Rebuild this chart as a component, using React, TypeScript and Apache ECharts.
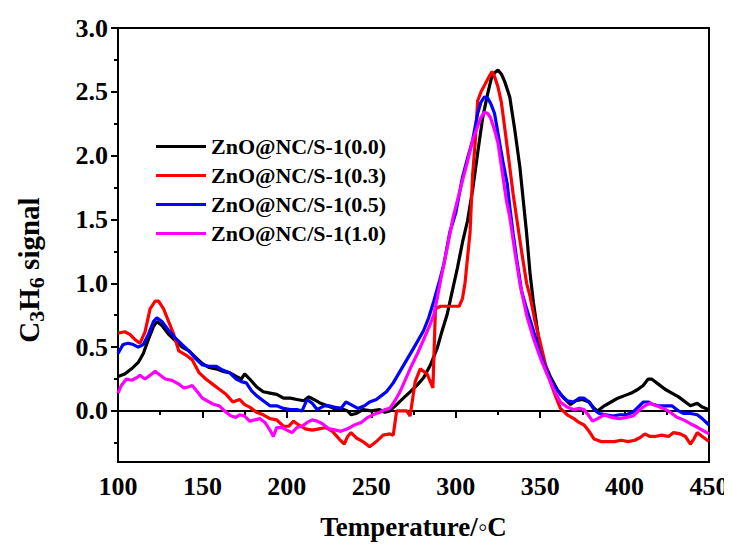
import React, { useEffect, useRef } from "react";
import * as echarts from "echarts";

const seriesNames = [
  "ZnO@NC/S-1(0.0)",
  "ZnO@NC/S-1(0.3)",
  "ZnO@NC/S-1(0.5)",
  "ZnO@NC/S-1(1.0)",
];
const seriesColors = ["#000000", "#ff0000", "#0000ff", "#ff00ff"];

const xTicks = [100, 150, 200, 250, 300, 350, 400, 450];
const yMajorTicks = [0, 0.5, 1.0, 1.5, 2.0, 2.5, 3.0];
const yMinorTicks = [-0.25, 0.25, 0.75, 1.25, 1.75, 2.25, 2.75];

const tBlack = [100, 104, 108, 112, 115, 118, 121, 123, 126, 130, 134, 138, 142, 146, 150, 154, 158, 162, 166, 170, 173, 175, 178, 182, 186, 190, 194, 198, 202, 206, 210, 213, 216, 220, 224, 228, 232, 236, 238, 241, 245, 250, 255, 258, 261, 265, 269, 273, 277, 281, 285, 289, 292, 295, 298, 301, 304, 307, 310, 313, 316, 319, 321, 323, 325, 327, 329, 332, 335, 338, 340, 342, 344, 346, 348, 350, 353, 356, 360, 364, 368, 371, 375, 379, 382, 384, 388, 392, 396, 400, 404, 408, 411, 414, 416, 420, 424, 428, 432, 436, 439, 443, 446, 450];
const vBlack = [0.27, 0.29, 0.33, 0.38, 0.45, 0.56, 0.66, 0.70, 0.67, 0.60, 0.55, 0.50, 0.47, 0.42, 0.37, 0.34, 0.33, 0.31, 0.30, 0.27, 0.25, 0.29, 0.25, 0.19, 0.15, 0.14, 0.13, 0.10, 0.10, 0.09, 0.08, 0.11, 0.09, 0.06, 0.04, 0.02, 0.02, 0.00, -0.03, -0.02, 0.01, 0.00, 0.01, -0.01, 0.00, 0.05, 0.10, 0.15, 0.20, 0.26, 0.36, 0.49, 0.63, 0.76, 0.94, 1.12, 1.32, 1.49, 1.73, 2.02, 2.30, 2.49, 2.60, 2.65, 2.67, 2.64, 2.58, 2.46, 2.20, 1.91, 1.65, 1.39, 1.08, 0.85, 0.67, 0.49, 0.36, 0.27, 0.17, 0.10, 0.05, 0.08, 0.09, 0.07, 0.02, 0.00, 0.04, 0.07, 0.10, 0.12, 0.14, 0.17, 0.20, 0.25, 0.25, 0.21, 0.17, 0.14, 0.11, 0.07, 0.04, 0.06, 0.03, 0.01];

const tRed = [100, 104, 107, 110, 113, 116, 119, 122, 124, 127, 130, 133, 136, 140, 144, 148, 152, 156, 160, 164, 168, 172, 175, 178, 182, 186, 190, 194, 198, 201, 204, 207, 211, 215, 219, 223, 227, 231, 234, 236, 238, 241, 245, 249, 253, 257, 261, 263, 265, 268, 271, 273, 276, 279, 283, 286.5, 288, 291, 296, 302, 304, 305.5, 307, 308.5, 310, 311.5, 313, 315, 317, 319, 321.5, 323, 325, 327, 329, 332, 334, 336, 339, 342, 344, 347, 350, 353, 356, 359, 362, 366, 370, 373, 376, 379, 382, 386, 390, 394, 398, 402, 406, 409, 412, 415, 418, 422, 426, 429, 433, 436, 439, 441, 443, 446, 450];
const vRed = [0.61, 0.62, 0.60, 0.56, 0.53, 0.62, 0.80, 0.86, 0.86, 0.80, 0.70, 0.60, 0.47, 0.44, 0.40, 0.30, 0.25, 0.21, 0.17, 0.13, 0.07, 0.09, 0.05, 0.03, -0.01, -0.03, -0.06, -0.07, -0.12, -0.12, -0.08, -0.11, -0.14, -0.15, -0.14, -0.13, -0.16, -0.22, -0.26, -0.20, -0.17, -0.21, -0.24, -0.28, -0.24, -0.19, -0.18, -0.19, 0.00, 0.00, 0.00, -0.04, 0.23, 0.33, 0.29, 0.18, 0.80, 0.82, 0.82, 0.82, 0.88, 1.00, 1.20, 1.40, 1.85, 2.10, 2.43, 2.50, 2.55, 2.60, 2.66, 2.62, 2.54, 2.42, 2.22, 1.91, 1.70, 1.52, 1.25, 1.00, 0.90, 0.70, 0.54, 0.37, 0.23, 0.12, 0.02, -0.03, -0.06, -0.09, -0.11, -0.16, -0.22, -0.24, -0.24, -0.24, -0.23, -0.24, -0.23, -0.21, -0.18, -0.20, -0.20, -0.19, -0.20, -0.17, -0.18, -0.20, -0.26, -0.22, -0.17, -0.20, -0.24];

const tBlue = [100, 103, 106, 109, 112, 115, 118, 121, 123, 126, 130, 134, 138, 142, 146, 150, 154, 158, 162, 166, 170, 173, 176, 179, 182, 186, 190, 194, 198, 202, 206, 209, 212, 215, 218, 222, 225, 228, 232, 235, 238, 242, 246, 249, 253, 256, 259, 263, 267, 271, 275, 278, 281, 284, 287, 290, 293, 296.5, 300, 304, 307, 310, 313, 315, 317, 319, 321, 323, 326, 328, 330.5, 332, 334, 336, 339, 342, 346, 350, 354, 358, 362, 366, 370, 373, 376, 379, 382, 385, 389, 393, 397, 401, 405, 408, 411, 414, 417, 420, 424, 428, 432, 435, 439, 443, 446, 450];
const vBlue = [0.45, 0.52, 0.53, 0.52, 0.50, 0.52, 0.60, 0.70, 0.73, 0.70, 0.63, 0.57, 0.52, 0.47, 0.41, 0.36, 0.35, 0.35, 0.32, 0.30, 0.25, 0.23, 0.22, 0.16, 0.12, 0.08, 0.04, 0.04, 0.02, 0.01, 0.01, 0.00, 0.09, 0.06, 0.01, 0.04, 0.04, 0.03, 0.02, 0.07, 0.05, 0.02, 0.04, 0.07, 0.09, 0.12, 0.15, 0.22, 0.31, 0.40, 0.49, 0.56, 0.63, 0.73, 0.86, 1.00, 1.15, 1.40, 1.55, 1.83, 1.98, 2.12, 2.33, 2.42, 2.46, 2.45, 2.40, 2.33, 2.10, 1.95, 1.78, 1.60, 1.39, 1.20, 0.94, 0.80, 0.63, 0.45, 0.31, 0.20, 0.13, 0.08, 0.07, 0.10, 0.10, 0.07, 0.01, -0.02, -0.03, -0.04, -0.03, -0.03, -0.01, 0.03, 0.07, 0.07, 0.05, 0.04, 0.04, 0.04, 0.00, -0.02, -0.02, -0.03, -0.06, -0.11];

const tMagenta = [100, 102, 105, 108, 111, 113, 116, 119, 122, 125, 128, 132, 136, 139, 142, 144, 147, 150, 154, 157, 160, 164, 167, 170, 172, 175, 178, 181, 184, 187, 190, 192, 194, 197, 200, 203, 206, 209, 212, 215, 218, 221, 225, 229, 232, 236, 240, 244, 248, 251, 255, 258, 261, 264, 267, 270, 273, 277, 280.7, 284, 287, 289, 291, 295, 298.5, 302, 306.7, 310, 312.7, 315, 317, 319, 320.5, 323, 325, 328, 330, 332, 335, 338, 342, 346, 350, 354, 358, 362, 366, 370, 373, 376, 379, 381, 384, 388, 392, 397, 401, 405, 409, 412, 415, 419, 423, 427, 431, 435, 439, 442, 446, 450];
const vMagenta = [0.14, 0.20, 0.25, 0.24, 0.26, 0.28, 0.25, 0.28, 0.31, 0.28, 0.25, 0.24, 0.21, 0.18, 0.19, 0.20, 0.15, 0.10, 0.07, 0.05, 0.04, -0.01, -0.04, -0.05, -0.03, -0.04, -0.08, -0.07, -0.06, -0.09, -0.15, -0.20, -0.13, -0.13, -0.15, -0.17, -0.13, -0.12, -0.09, -0.07, -0.08, -0.10, -0.14, -0.15, -0.16, -0.14, -0.11, -0.09, -0.05, -0.03, -0.01, 0.01, 0.02, 0.08, 0.15, 0.24, 0.33, 0.44, 0.55, 0.65, 0.75, 0.88, 1.02, 1.28, 1.52, 1.70, 1.94, 2.12, 2.22, 2.30, 2.34, 2.33, 2.30, 2.20, 2.10, 1.83, 1.65, 1.52, 1.25, 1.00, 0.75, 0.57, 0.42, 0.29, 0.17, 0.07, 0.03, 0.01, 0.02, 0.01, -0.04, -0.08, -0.06, -0.03, -0.05, -0.06, -0.05, -0.04, 0.01, 0.04, 0.06, 0.04, 0.02, -0.01, -0.05, -0.07, -0.10, -0.12, -0.15, -0.18];

const temps = [tBlack, tRed, tBlue, tMagenta];
const values = [vBlack, vRed, vBlue, vMagenta];

const FONT = "'Liberation Serif', 'Times New Roman', serif";

export default function App() {
  const ref = useRef<HTMLDivElement>(null);
  useEffect(() => {
    if (!ref.current) return;
    const chart = echarts.init(ref.current, undefined, { renderer: "svg" });
    const labelStyle = {
      fontFamily: FONT,
      fontWeight: "bold" as const,
      fontSize: 26,
      color: "#000",
    };
    chart.setOption({
      animation: false,
      backgroundColor: "#fff",
      grid: {
        left: 118,
        right: 23,
        top: 28,
        bottom: 88,
        show: true,
        borderColor: "#000",
        borderWidth: 2,
        backgroundColor: "transparent",
      },
      legend: {
        orient: "vertical",
        left: 151,
        top: 127,
        icon: "rect",
        itemWidth: 50,
        itemHeight: 3,
        itemGap: 0,
        data: seriesNames,
        textStyle: {
          fontFamily: FONT,
          fontWeight: "bold",
          fontSize: 22,
          lineHeight: 29,
          color: "#000",
        },
      },
      xAxis: {
        type: "value",
        min: 100,
        max: 450,
        interval: 50,
        name: "Temperature/\u25e6C",
        nameLocation: "middle",
        nameGap: 51,
        nameTextStyle: { ...labelStyle, fontSize: 27 },
        axisLine: { lineStyle: { color: "#000", width: 2 } },
        axisTick: { inside: false, length: 7, lineStyle: { color: "#000", width: 2 } },
        minorTick: { show: true, splitNumber: 2, length: 4, lineStyle: { color: "#000", width: 2 } },
        splitLine: { show: false },
        axisLabel: {
          ...labelStyle,
          margin: 11,
          customValues: xTicks,
        },
      },
      yAxis: [
        {
          type: "value",
          min: -0.4,
          max: 3.0,
          position: "left",
          axisLine: { show: true, lineStyle: { color: "#000", width: 2 } },
          axisTick: { show: true, inside: false, length: 7, customValues: yMajorTicks, lineStyle: { color: "#000", width: 2 } },
          splitLine: { show: false },
          axisLabel: {
            ...labelStyle,
            margin: 10,
            customValues: yMajorTicks,
            formatter: (v: number) => v.toFixed(1),
          },
        },
        {
          type: "value",
          min: -0.4,
          max: 3.0,
          position: "left",
          offset: 0,
          axisLine: { show: false },
          axisTick: { show: true, inside: false, length: 4, customValues: yMinorTicks, lineStyle: { color: "#000", width: 2 } },
          splitLine: { show: false },
          axisLabel: { show: false },
        },
      ],
      graphic: [
        {
          type: "text",
          x: 29,
          y: 270,
          rotation: Math.PI / 2,
          style: {
            text: "{m|C}{s|3}{m|H}{s|6}{m| signal}",
            align: "center",
            verticalAlign: "middle",
            fill: "#000",
            rich: {
              m: { fontFamily: FONT, fontWeight: "bold", fontSize: 29, lineHeight: 36, fill: "#000" },
              s: { fontFamily: FONT, fontWeight: "bold", fontSize: 22, lineHeight: 20, verticalAlign: "bottom", fill: "#000" },
            },
          },
        },
      ],
      series: seriesNames.map((name, i) => ({
        name,
        type: "line",
        yAxisIndex: 0,
        showSymbol: false,
        symbol: "none",
        smooth: false,
        color: seriesColors[i],
        lineStyle: { color: seriesColors[i], width: 3.2 },
        data: temps[i].map((t, j) => [t, values[i][j]]),
      })),
    });
    return () => chart.dispose();
  }, []);
  return <div ref={ref} style={{ width: 732, height: 550, margin: -8 }} />;
}
